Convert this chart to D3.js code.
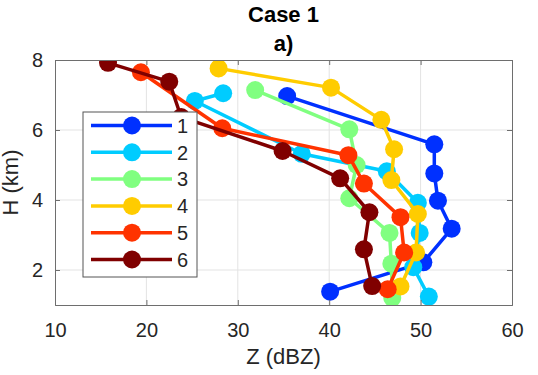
<!DOCTYPE html>
<html>
<head>
<meta charset="utf-8">
<script src="https://cdn.jsdelivr.net/npm/d3@7"></script>
<style>
  body { margin: 0; background: #fff; }
  text { font-family: "Liberation Sans", Arial, sans-serif; fill: #262626; }
</style>
</head>
<body>
<div class="container"></div>
<script>
const seriesNames = ["1", "2", "3", "4", "5", "6"];
const seriesColors = ["#0030ff", "#00ccff", "#80ff80", "#ffcc00", "#ff3300", "#800000"];

const z1 = [35.4, 51.5, 51.5, 51.9, 53.4, 50.3, 40.1];
const h1 = [6.97, 5.59, 4.76, 3.98, 3.18, 2.22, 1.38];
const z2 = [28.4, 25.3, 37.0, 46.3, 49.7, 49.9, 49.2, 50.9];
const h2 = [7.05, 6.83, 5.32, 4.82, 3.92, 3.06, 2.08, 1.24];
const z3 = [31.9, 42.2, 43.0, 42.2, 46.6, 46.8, 46.9];
const h3 = [7.14, 6.02, 5.0, 4.05, 3.06, 2.18, 1.2];
const z4 = [27.9, 40.2, 45.7, 47.1, 46.8, 49.7, 49.5, 47.8];
const h4 = [7.76, 7.21, 6.29, 5.45, 4.57, 3.6, 2.5, 1.53];
const z5 = [19.4, 28.3, 42.1, 43.8, 47.8, 48.2, 46.4];
const h5 = [7.65, 6.05, 5.28, 4.47, 3.51, 2.5, 1.45];
const z6 = [15.8, 22.5, 23.8, 34.9, 41.2, 44.4, 43.8, 44.7];
const h6 = [7.92, 7.38, 6.37, 5.4, 4.62, 3.65, 2.59, 1.54];

const xTicks = [10, 20, 30, 40, 50, 60];
const yTicks = [2, 4, 6, 8];

const zs = [z1, z2, z3, z4, z5, z6];
const hs = [h1, h2, h3, h4, h5, h6];
const series = seriesNames.map((name, i) => ({
  name: name,
  color: seriesColors[i],
  points: zs[i].map((z, j) => ({ z: z, h: hs[i][j] })),
}));

const width = 538;
const height = 375;
const margin = { top: 60, right: 26, bottom: 70, left: 55 };
const innerWidth = width - margin.left - margin.right;
const innerHeight = height - margin.top - margin.bottom;
const axisColor = "#6e6e6e";
const fontFamily = "'Liberation Sans', Arial, sans-serif";

const svg = d3
  .select(".container")
  .append("svg")
  .attr("width", width)
  .attr("height", height);

svg.append("defs")
  .append("clipPath")
  .attr("id", "plot-clip")
  .append("rect")
  .attr("width", innerWidth)
  .attr("height", innerHeight);

const g = svg
  .append("g")
  .attr("transform", `translate(${margin.left},${margin.top})`);

const xScale = d3.scaleLinear().domain([10, 60]).range([0, innerWidth]);
const yScale = d3.scaleLinear().domain([1, 8]).range([innerHeight, 0]);

// grid
g.append("g")
  .selectAll("line")
  .data(xTicks.slice(1, -1))
  .enter()
  .append("line")
  .attr("x1", (d) => xScale(d))
  .attr("x2", (d) => xScale(d))
  .attr("y1", 0)
  .attr("y2", innerHeight)
  .attr("stroke", "#e3e3e3");
g.append("g")
  .selectAll("line")
  .data(yTicks.filter((d) => d < 8))
  .enter()
  .append("line")
  .attr("x1", 0)
  .attr("x2", innerWidth)
  .attr("y1", (d) => yScale(d))
  .attr("y2", (d) => yScale(d))
  .attr("stroke", "#e3e3e3");

// data
const line = d3
  .line()
  .x((d) => xScale(d.z))
  .y((d) => yScale(d.h));

const plot = g.append("g").attr("clip-path", "url(#plot-clip)");
series.forEach((s) => {
  const sg = plot.append("g");
  sg.append("path")
    .datum(s.points)
    .attr("d", line)
    .attr("fill", "none")
    .attr("stroke", s.color)
    .attr("stroke-width", 3.5)
    .attr("stroke-linejoin", "round");
  sg.selectAll("circle")
    .data(s.points)
    .enter()
    .append("circle")
    .attr("cx", (d) => xScale(d.z))
    .attr("cy", (d) => yScale(d.h))
    .attr("r", 9)
    .attr("fill", s.color);
});

// axes (inward ticks, box)
const xAxis = d3.axisBottom(xScale).tickValues(xTicks).tickSize(-5).tickPadding(18);
const xAxisTop = d3.axisTop(xScale).tickValues(xTicks).tickSize(-5);
const yAxis = d3.axisLeft(yScale).tickValues(yTicks).tickSize(-5).tickPadding(12).tickFormat(d3.format("d"));
const yAxisRight = d3.axisRight(yScale).tickValues(yTicks).tickSize(-5);

const styleAxis = (sel) => {
  sel.attr("font-size", 20).attr("font-family", fontFamily);
  sel.select(".domain").attr("stroke", axisColor);
  sel.selectAll(".tick line").attr("stroke", axisColor);
  sel.selectAll(".tick text").attr("fill", "#262626");
};
const noLabels = (sel) => sel.selectAll(".tick text").remove();

g.append("g").attr("transform", `translate(0,${innerHeight})`).call(xAxis).call(styleAxis);
g.append("g").call(xAxisTop).call(styleAxis).call(noLabels);
g.append("g").call(yAxis).call(styleAxis);
g.append("g").attr("transform", `translate(${innerWidth},0)`).call(yAxisRight).call(styleAxis).call(noLabels);

// legend
const legend = g.append("g").attr("transform", "translate(28,52)");
legend.append("rect")
  .attr("width", 114)
  .attr("height", 165)
  .attr("fill", "#fff")
  .attr("stroke", "#555")
  .attr("stroke-width", 1);
series.forEach((s, i) => {
  const ly = 13.5 + i * 26.8;
  legend.append("line")
    .attr("x1", 8)
    .attr("x2", 89)
    .attr("y1", ly)
    .attr("y2", ly)
    .attr("stroke", s.color)
    .attr("stroke-width", 3.5);
  legend.append("circle")
    .attr("cx", 49)
    .attr("cy", ly)
    .attr("r", 9)
    .attr("fill", s.color);
  legend.append("text")
    .attr("x", 94)
    .attr("y", ly)
    .attr("dy", "0.36em")
    .attr("font-size", 20)
    .text(s.name);
});

// titles and labels
svg.append("text")
  .attr("x", margin.left + innerWidth / 2)
  .attr("y", 22)
  .attr("text-anchor", "middle")
  .attr("font-size", 22)
  .attr("font-weight", "bold")
  .style("fill", "#000")
  .text("Case 1");
svg.append("text")
  .attr("x", margin.left + innerWidth / 2)
  .attr("y", 51)
  .attr("text-anchor", "middle")
  .attr("font-size", 22)
  .attr("font-weight", "bold")
  .style("fill", "#000")
  .text("a)");

svg.append("text")
  .attr("x", margin.left + innerWidth / 2)
  .attr("y", 364)
  .attr("text-anchor", "middle")
  .attr("font-size", 22)
  .text("Z (dBZ)");
svg.append("text")
  .attr("transform", `translate(18,${margin.top + innerHeight / 2}) rotate(-90)`)
  .attr("text-anchor", "middle")
  .attr("font-size", 22)
  .text("H (km)");
</script>
</body>
</html>
